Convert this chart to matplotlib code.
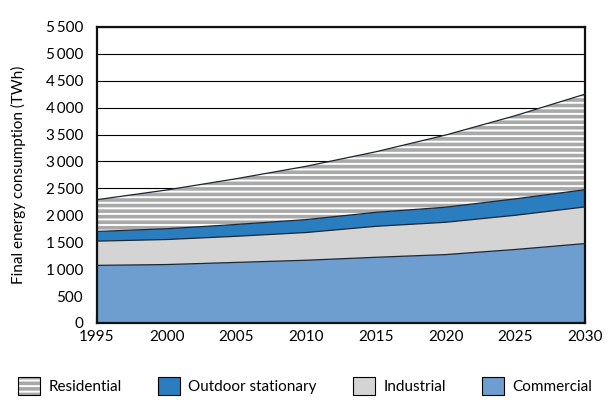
import numpy as np
import matplotlib
matplotlib.use("Agg")
import matplotlib.pyplot as plt
from matplotlib.patches import Patch
from matplotlib.legend_handler import HandlerTuple

# data (TWh)
years = [1995, 2000, 2005, 2010, 2015, 2020, 2025, 2030]
commercial = [1070, 1085, 1125, 1165, 1220, 1270, 1365, 1475]
industrial = [450, 465, 485, 515, 575, 600, 635, 680]
outdoor = [180, 200, 220, 240, 260, 280, 305, 320]
residential = [590, 720, 850, 990, 1125, 1340, 1545, 1775]

labels = ["Residential", "Outdoor stationary", "Industrial", "Commercial"]
c_comm = "#6d9ecf"
c_out = "#2a7dbf"
c_ind = "#d4d4d4"
c_res = "#a9a9a9"

plt.rcParams["font.family"] = ["Lato", "DejaVu Sans"]
plt.rcParams["hatch.linewidth"] = 1.4

fig = plt.figure(figsize=(6.10, 4.13), dpi=100)
ax = fig.add_axes([0.159, 0.218, 0.800, 0.717])

x = np.array(years)
b1 = np.array(commercial)
b2 = b1 + np.array(industrial)
b3 = b2 + np.array(outdoor)
b4 = b3 + np.array(residential)

ax.fill_between(x, 0, b1, facecolor=c_comm, lw=0, zorder=2)
ax.fill_between(x, b1, b2, facecolor=c_ind, lw=0, zorder=2)
ax.fill_between(x, b2, b3, facecolor=c_out, lw=0, zorder=2)
ax.fill_between(x, b3, b4, facecolor=c_res, edgecolor="white", hatch="---", lw=0, zorder=2)
for b in (b1, b2, b3, b4):
    ax.plot(x, b, color="#1c2733", lw=0.9, zorder=3)

ax.set_xlim(1995, 2030)
ax.set_ylim(0, 5500)
ax.set_xticks(years)
ax.set_yticks(np.arange(0, 5501, 500))
ax.set_yticklabels([f"{v:,}".replace(",", "\u2009") if v >= 1000 else str(v)
                    for v in range(0, 5501, 500)])
ax.yaxis.grid(True, color="black", lw=0.8)
ax.set_axisbelow(True)
for s in ax.spines.values():
    s.set_linewidth(1.6)
    s.set_color("#111111")
ax.tick_params(axis="x", direction="in", length=5, width=1.5, pad=5, labelsize=11)
ax.tick_params(axis="y", length=0, pad=10, labelsize=11)
ax.set_ylabel("Final energy consumption (TWh)", fontsize=11, labelpad=14)

# legend
h_res = (Patch(facecolor=c_res, edgecolor="white", hatch="---", lw=0),
         Patch(fill=False, edgecolor="black", lw=0.8))
h_out = Patch(facecolor=c_out, edgecolor="black", lw=0.8)
h_ind = Patch(facecolor=c_ind, edgecolor="black", lw=0.8)
h_comm = Patch(facecolor=c_comm, edgecolor="black", lw=0.8)
fig.legend([h_res, h_out, h_ind, h_comm], labels, ncol=4, frameon=False,
           loc="center", bbox_to_anchor=(0.5, 0.066), fontsize=11,
           handlelength=1.45, handleheight=1.45, handletextpad=0.55,
           columnspacing=2.35, handler_map={tuple: HandlerTuple(ndivide=1)})

fig.savefig("out.png", dpi=100)
